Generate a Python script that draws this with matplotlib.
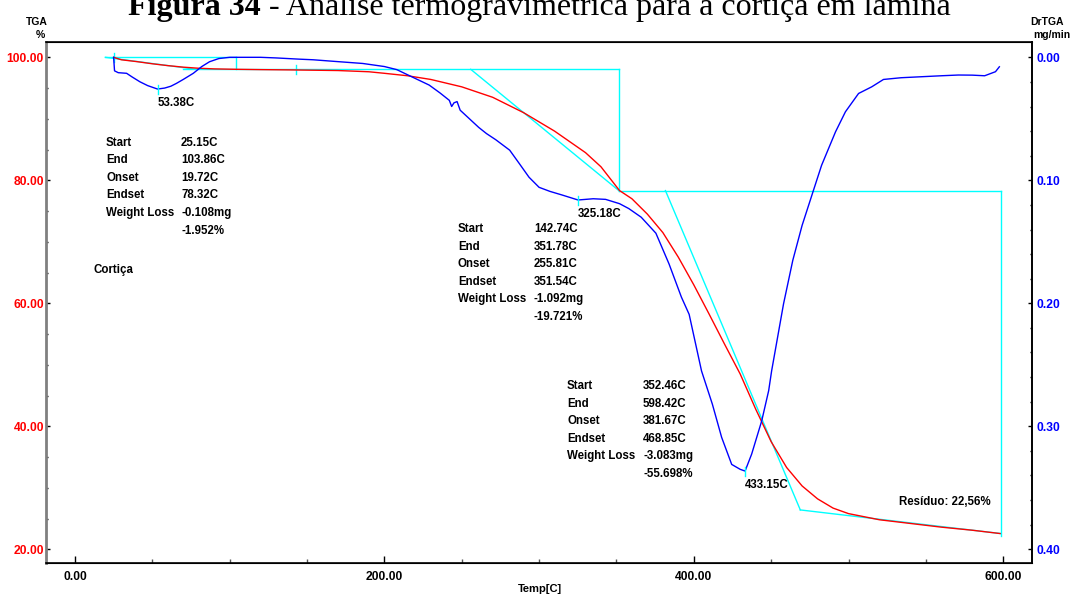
import matplotlib.pyplot as plt
from matplotlib.ticker import MultipleLocator, FormatStrFormatter

plt.rcParams['font.family'] = ['Liberation Sans', 'DejaVu Sans']
plt.rcParams['font.weight'] = 'bold'

# TGA curve (weight %)
temp_tga = [25, 30, 40, 50, 60, 70, 80, 90, 104, 120, 140, 170, 190, 200, 215, 230,
            250, 270, 290, 310, 330, 340, 352, 360, 370, 380, 390, 400, 410, 420,
            430, 440, 450, 460, 470, 480, 490, 500, 520, 540, 560, 580, 598]
tga = [100.0, 99.6, 99.3, 98.95, 98.65, 98.4, 98.22, 98.12, 98.05, 98.0, 97.95, 97.85,
       97.65, 97.4, 97.0, 96.4, 95.2, 93.5, 91.0, 88.0, 84.5, 82.2, 78.33, 77.0, 74.5,
       71.5, 67.5, 63.0, 58.2, 53.3, 48.5, 42.8, 37.5, 33.3, 30.3, 28.2, 26.7, 25.8,
       24.8, 24.2, 23.6, 23.1, 22.56]

# DrTGA curve (mg/min)
temp_dr = [25, 25.6, 28, 33.4, 37, 42, 47, 53.38, 58, 62, 65.6, 70, 76.5, 82, 87, 93,
           100, 120, 130, 145, 154, 164.5, 186, 200, 208, 218, 229, 236, 242, 243.5,
           245, 247, 249, 255, 261, 266, 272, 281, 287, 293.5, 300, 307, 315, 325.18,
           335, 343, 352, 358, 366, 375.5, 384, 392, 397, 401, 405, 412, 418, 424.5,
           430, 433.15, 437.4, 443.9, 448.4, 450.3, 458, 464, 470, 477, 482.6, 491.6,
           498, 506.5, 515, 522.6, 534, 547, 560, 571, 580, 588, 595, 597.5]
drtga = [0.0, 0.011, 0.0125, 0.013, 0.016, 0.0199, 0.023, 0.0258, 0.025, 0.0235,
         0.0212, 0.018, 0.013, 0.0075, 0.0036, 0.001, 0.0, 0.0, 0.0005, 0.0015, 0.002,
         0.003, 0.005, 0.0075, 0.010, 0.016, 0.0226, 0.029, 0.035, 0.040, 0.037, 0.036,
         0.043, 0.050, 0.057, 0.062, 0.067, 0.0755, 0.086, 0.0975, 0.1057, 0.109, 0.112,
         0.116, 0.115, 0.1155, 0.119, 0.123, 0.130, 0.143, 0.168, 0.195, 0.209, 0.232,
         0.255, 0.282, 0.309, 0.331, 0.335, 0.3364, 0.3226, 0.2956, 0.271, 0.255,
         0.2005, 0.165, 0.1367, 0.1095, 0.0878, 0.0606, 0.0443, 0.0294, 0.024, 0.018,
         0.0166, 0.0158, 0.015, 0.0144, 0.0145, 0.015, 0.0117, 0.0077]

# step analysis results
step_start = [25.15, 142.74, 352.46]
step_end = [103.86, 351.78, 598.42]
step_onset = [19.72, 255.81, 381.67]
step_endset = [78.32, 351.54, 468.85]
loss_mg = [-0.108, -1.092, -3.083]
loss_pct = [-1.952, -19.721, -55.698]
levels = [100.0, 98.05, 78.33]
tangent3_end = 26.4
residue = 22.56
baseline1_from = 70.0

# DrTGA peaks
peak_temp = [53.38, 325.18, 433.15]
peak_dr = [0.0258, 0.116, 0.3364]

W, H = 1074, 597
fig = plt.figure(figsize=(W / 100, H / 100), dpi=100)


def fx(px):
    return px / W


def fy(py):
    return 1 - py / H


ax = fig.add_axes([fx(46), fy(563), (1032 - 46) / W, (563 - 42) / H])
ax2 = ax.twinx()

cyan = '#00ffff'
lw = 1.0

# construction lines of the three steps
ax.plot([step_onset[0], step_end[0]], [levels[0], levels[0]], color=cyan, lw=lw)
ax.plot([step_onset[0], step_endset[0]], [levels[0], levels[1]], color=cyan, lw=lw)
ax.plot([step_end[0], step_end[0]], [levels[0], levels[1]], color=cyan, lw=lw)
ax.plot([baseline1_from, step_end[1]], [levels[1], levels[1]], color=cyan, lw=lw)
ax.plot([step_onset[1], step_endset[1]], [levels[1], levels[2]], color=cyan, lw=lw)
ax.plot([step_end[1], step_end[1]], [levels[1], levels[2]], color=cyan, lw=lw)
ax.plot([step_end[1], step_end[2]], [levels[2], levels[2]], color=cyan, lw=lw)
ax.plot([step_onset[2], step_endset[2]], [levels[2], tangent3_end], color=cyan, lw=lw)
ax.plot([step_endset[2], step_end[2]], [tangent3_end, residue], color=cyan, lw=lw)
ax.plot([step_end[2], step_end[2]], [levels[2], residue - 0.4], color=cyan, lw=lw)
for s, lv in zip(step_start[:2], levels[:2]):
    ax.plot([s, s], [lv - 0.7, lv + 0.7], color=cyan, lw=lw)

ax.plot(temp_tga, tga, color='#ff0000', lw=lw)
ax2.plot(temp_dr, drtga, color='#0000ff', lw=lw)

# peak marks and labels
for t, d in zip(peak_temp, peak_dr):
    ax2.plot([t, t], [d - 0.003, d + 0.004], color=cyan, lw=lw)
    ax2.annotate(f"{t:.2f}C", (t, d), xytext=(0, -14), textcoords='offset pixels',
                 ha='left', va='center', fontsize=8.3)

ax.set_xlim(-18.7, 618.6)
ax.set_ylim(17.77, 102.49)
ax2.set_ylim(0.41115, -0.01245)

ax.xaxis.set_major_locator(MultipleLocator(200))
ax.xaxis.set_minor_locator(MultipleLocator(50))
ax.xaxis.set_major_formatter(FormatStrFormatter('%.2f'))
ax.yaxis.set_major_locator(MultipleLocator(20))
ax.yaxis.set_minor_locator(MultipleLocator(5))
ax.yaxis.set_major_formatter(FormatStrFormatter('%.2f'))
ax2.yaxis.set_major_locator(MultipleLocator(0.1))
ax2.yaxis.set_minor_locator(MultipleLocator(0.02))
ax2.yaxis.set_major_formatter(FormatStrFormatter('%.2f'))

ax.tick_params(axis='x', which='major', direction='in', length=5, width=1, pad=5.5,
               labelsize=8.7, colors='black')
ax.tick_params(axis='x', which='minor', direction='in', length=3, width=1, colors='#555555')
ax.tick_params(axis='y', which='major', direction='in', length=3, width=1, pad=1.5,
               labelsize=8.7, labelcolor='#ff0000', color='black')
ax.tick_params(axis='y', which='minor', direction='in', length=1.5, width=1)
ax2.tick_params(axis='y', which='major', direction='in', length=3, width=1, pad=3.5,
                labelsize=8.7, labelcolor='#0000ff', color='black')
ax2.tick_params(axis='y', which='minor', direction='in', length=1.5, width=1)

for sp in ['top', 'bottom', 'right']:
    ax.spines[sp].set_color('black')
    ax.spines[sp].set_linewidth(1.2)
ax.spines['left'].set_color('#808080')
ax.spines['left'].set_linewidth(2)
ax2.spines['left'].set_visible(False)
ax2.spines['right'].set_color('black')
ax2.spines['right'].set_linewidth(1.2)

# axis titles
fig.text(fx(37), fy(22), "TGA", ha='center', va='center', fontsize=7.5)
fig.text(fx(40), fy(35), "%", ha='center', va='center', fontsize=7.5)
fig.text(fx(1047), fy(22), "DrTGA", ha='center', va='center', fontsize=7.5)
fig.text(fx(1052), fy(35), "mg/min", ha='center', va='center', fontsize=7.5)
fig.text(fx(540), fy(589), "Temp[C]", ha='center', va='center', fontsize=8)

# step result blocks
blocks = [(106, 181, 142.7), (458, 534, 229), (567, 643, 386)]
for i, (lx, vx, y0) in enumerate(blocks):
    names = ["Start", "End", "Onset", "Endset", "Weight Loss", ""]
    vals = [f"{step_start[i]:.2f}C", f"{step_end[i]:.2f}C", f"{step_onset[i]:.2f}C",
            f"{step_endset[i]:.2f}C", f"{loss_mg[i]:.3f}mg", f"{loss_pct[i]:.3f}%"]
    for k, (n, v) in enumerate(zip(names, vals)):
        yy = y0 + k * 17.6
        fig.text(fx(lx), fy(yy), n, ha='left', va='center', fontsize=8.3)
        fig.text(fx(vx), fy(yy), v, ha='left', va='center', fontsize=8.3)

fig.text(fx(93), fy(270), "Cortiça", ha='left', va='center', fontsize=8.3)
fig.text(fx(899), fy(502), f"Resíduo: {residue:.2f}%".replace('.', ','),
         ha='left', va='center', fontsize=8.3)

# figure caption, its top running off the canvas
serif = ['Liberation Serif', 'DejaVu Serif']
cap_y = fy(15)
t_bold = fig.text(fx(128), cap_y, "Figura 34", ha='left', va='baseline', fontsize=23,
                  family=serif, weight='bold')
fig.canvas.draw()
bb = t_bold.get_window_extent()
fig.text(bb.x1 / W, cap_y, " - Análise termogravimétrica para a cortiça em lâmina",
         ha='left', va='baseline', fontsize=23, family=serif, weight='normal')

fig.savefig('out.png', dpi=100)
